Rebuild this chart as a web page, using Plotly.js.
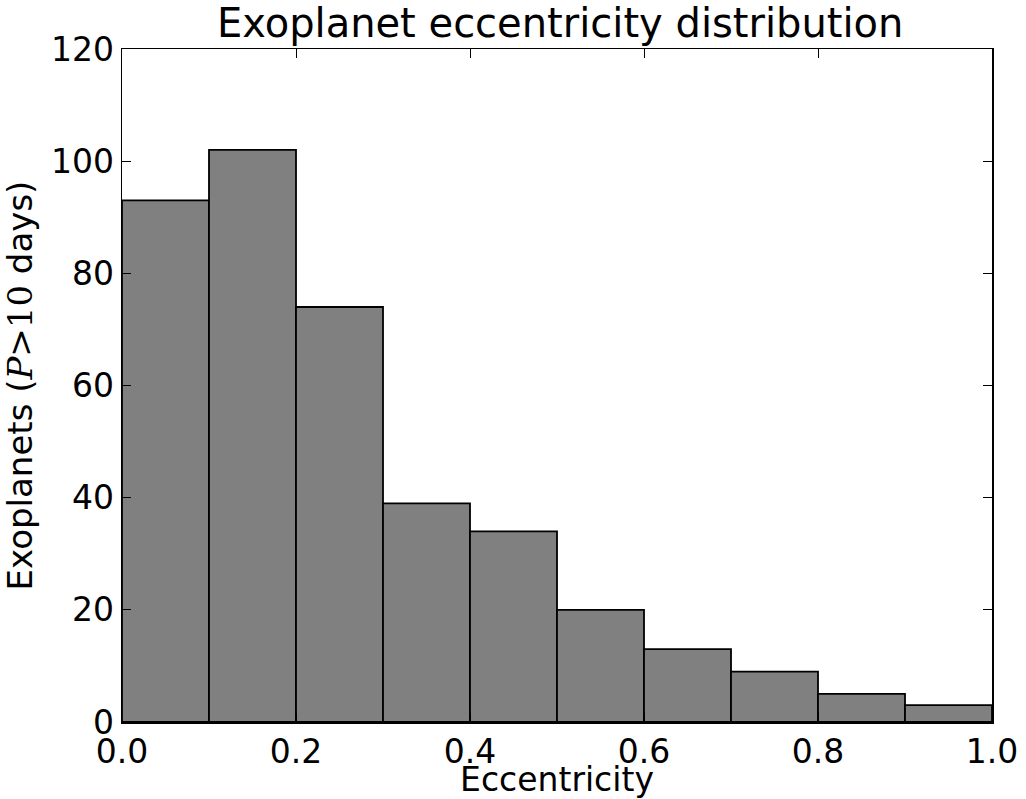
<!DOCTYPE html>
<html>
<head>
<meta charset="utf-8">
<script src="https://cdn.plot.ly/plotly-3.0.1.min.js"></script>
<style>body{margin:0;padding:0;background:#fff;}#chart{width:1026px;height:799px;}</style>
</head>
<body>
<div id="chart"></div>
<script>
var binStarts = [0.0, 0.1, 0.2, 0.3, 0.4, 0.5, 0.6, 0.7, 0.8, 0.9];
var binWidth = 0.1;
var counts = [93, 102, 74, 39, 34, 20, 13, 9, 5, 3];
var xTicks = [0.0, 0.2, 0.4, 0.6, 0.8, 1.0];
var xTickLabels = ["0.0", "0.2", "0.4", "0.6", "0.8", "1.0"];
var yTicks = [0, 20, 40, 60, 80, 100, 120];

var centers = binStarts.map(function(s){ return s + binWidth/2; });

var trace = {
  type: 'bar',
  x: centers,
  y: counts,
  width: binStarts.map(function(){ return binWidth; }),
  marker: {color: '#808080', line: {color: '#000000', width: 1.8}},
  hoverinfo: 'x+y'
};

var font = "'DejaVu Sans', sans-serif";
var layout = {
  width: 1026, height: 799,
  margin: {l: 122, r: 34, t: 49, b: 77},
  paper_bgcolor: '#fff', plot_bgcolor: '#fff',
  font: {family: font, color: '#000', size: 33},
  title: {text: 'Exoplanet eccentricity distribution', font: {size: 40, family: font},
          x: 0.546, xanchor: 'center', yref: 'paper', y: 1, yanchor: 'bottom', pad: {b: 12}},
  showlegend: false,
  bargap: 0,
  xaxis: {
    range: [0, 1], tickvals: xTicks, ticktext: xTickLabels,
    ticks: 'inside', ticklen: 9, tickwidth: 1, tickcolor: '#000',
    showline: true, linecolor: '#000', linewidth: 1.5, mirror: 'ticks',
    showgrid: false, zeroline: false,
    tickfont: {size: 33},
    title: {text: 'Eccentricity', font: {size: 33}, standoff: 6}
  },
  yaxis: {
    range: [0, 120], tickvals: yTicks,
    ticks: 'inside', ticklen: 9, tickwidth: 1, tickcolor: '#000',
    showline: true, linecolor: '#000', linewidth: 1.5, mirror: 'ticks',
    showgrid: false, zeroline: false,
    tickfont: {size: 33},
    title: {text: "Exoplanets (<span style=\"font-family:'DejaVu Serif'\"><i>P</i>&gt;10</span> days)", font: {size: 34}, standoff: 10}
  }
};

Plotly.newPlot('chart', [trace], layout, {displayModeBar: false, staticPlot: true});
</script>
</body>
</html>
